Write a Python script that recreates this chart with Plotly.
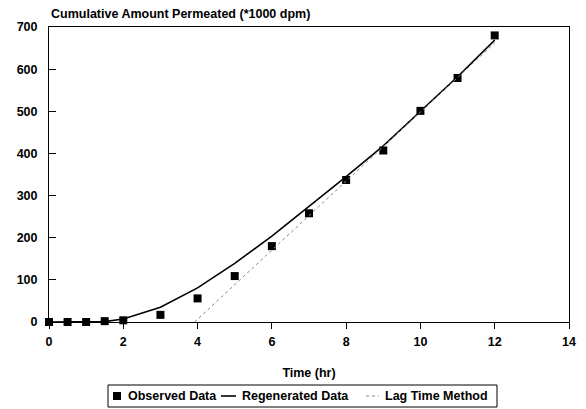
import plotly.graph_objects as go

time_obs = [0, 0.5, 1, 1.5, 2, 3, 4, 5, 6, 7, 8, 9, 10, 11, 12]
amount_obs = [0, 0, 0, 2, 4, 17, 56, 109, 180, 258, 337, 407, 501, 579, 680]

time_regen = [0, 0.5, 1, 1.5, 2, 3, 4, 5, 6, 7, 8, 9, 10, 11, 12]
amount_regen = [0, 0, 0, 1, 7, 35, 81, 139, 204, 274, 345, 418, 499, 582, 669]

time_lag = [3.92, 12]
amount_lag = [0, 662]

x_ticks = [0, 2, 4, 6, 8, 10, 12, 14]
y_ticks = [0, 100, 200, 300, 400, 500, 600, 700]

legend_labels = ["Observed Data", "Regenerated Data", "Lag Time Method"]

FONT = "Liberation Sans, Arial, sans-serif"
W, H = 586, 409
L, R, T, B = 49, 17, 27, 87
PW, PH = W - L - R, H - T - B


def px(x):
    return (x - L) / PW


def py(y):
    return (H - B - y) / PH


fig = go.Figure()
fig.add_trace(go.Scatter(
    x=time_obs, y=amount_obs, mode="markers", name=legend_labels[0],
    marker=dict(symbol="square", size=8, color="black"), cliponaxis=False))
fig.add_trace(go.Scatter(
    x=time_regen, y=amount_regen, mode="lines", name=legend_labels[1],
    line=dict(color="black", width=1.6)))
fig.add_trace(go.Scatter(
    x=time_lag, y=amount_lag, mode="lines", name=legend_labels[2],
    line=dict(color="#888888", width=1, dash="dot")))

# manual compact legend (box, symbols, text)
ly = 396
shapes = [
    dict(type="rect", xref="paper", yref="paper", x0=px(108), x1=px(497),
         y0=py(407), y1=py(385), line=dict(color="black", width=1)),
    dict(type="rect", xref="paper", yref="paper", x0=px(113), x1=px(121),
         y0=py(400), y1=py(392), line=dict(width=0), fillcolor="black"),
    dict(type="line", xref="paper", yref="paper", x0=px(221), x1=px(236),
         y0=py(ly), y1=py(ly), line=dict(color="black", width=1.6)),
    dict(type="line", xref="paper", yref="paper", x0=px(366), x1=px(379),
         y0=py(ly), y1=py(ly), line=dict(color="#888888", width=1, dash="dot")),
]
annotations = [
    dict(text="<b>Cumulative Amount Permeated (*1000 dpm)</b>",
         xref="paper", yref="paper", x=0, y=1, xanchor="left",
         yanchor="bottom", yshift=4, showarrow=False, font=dict(size=12.5)),
]
for lbl, xs in zip(legend_labels, [126, 240, 383]):
    annotations.append(dict(text=f"<b>{lbl}</b>", xref="paper", yref="paper",
                            x=px(xs), y=py(ly), xanchor="left", yanchor="middle",
                            showarrow=False, font=dict(size=12.5)))

fig.update_layout(
    width=W, height=H,
    margin=dict(l=L, r=R, t=T, b=B, autoexpand=False),
    paper_bgcolor="white", plot_bgcolor="white",
    font=dict(family=FONT, size=12.5, color="black"),
    showlegend=False,
    shapes=shapes,
    annotations=annotations,
)
fig.update_xaxes(
    range=[0, 14], tickvals=x_ticks, ticktext=[f"<b>{v}</b>" for v in x_ticks],
    ticks="outside", ticklen=6, tickcolor="black", tickwidth=1,
    showline=True, linecolor="black", linewidth=1, mirror=True,
    showgrid=False, zeroline=False, automargin=False, ticklabelstandoff=2,
    title=dict(text="<b>Time (hr)</b>", standoff=20, font=dict(size=12.5)))
fig.update_yaxes(
    range=[0, 700], tickvals=y_ticks, ticktext=[f"<b>{v}</b>" for v in y_ticks],
    ticks="inside", ticklen=7, tickcolor="black", tickwidth=1,
    showline=True, linecolor="black", linewidth=1, mirror=True,
    showgrid=False, zeroline=False, automargin=False, ticklabelstandoff=8)

fig.write_html("out.html",
               config={"displayModeBar": False},
               post_script="document.body.style.margin='0';document.body.style.overflow='hidden';")
